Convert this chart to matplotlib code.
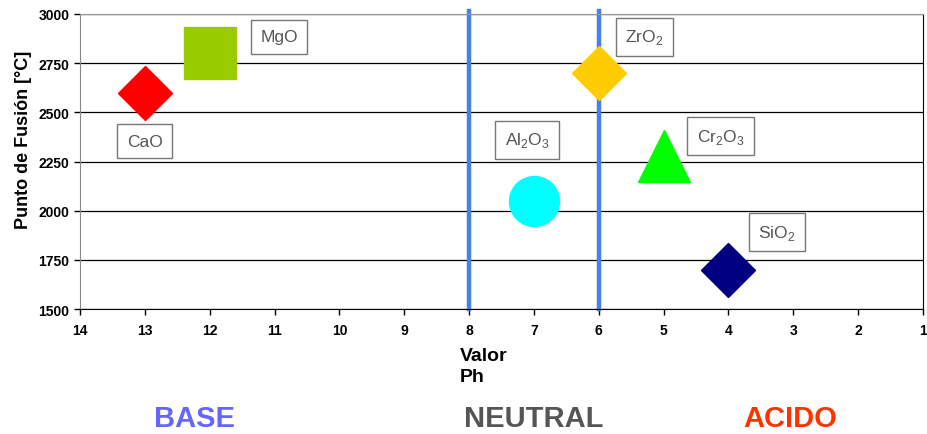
import matplotlib.pyplot as plt
from matplotlib import font_manager

# data
compounds = ['CaO', 'MgO', 'ZrO$_2$', 'Al$_2$O$_3$', 'Cr$_2$O$_3$', 'SiO$_2$']
ph_values = [13, 12, 6, 7, 5, 4]
melting_points = [2600, 2800, 2700, 2050, 2280, 1700]
markers = ['D', 's', 'D', 'o', '^', 'D']
colors = ['#ff0000', '#99cc00', '#ffcc00', '#00ffff', '#00ff00', '#000080']
label_offsets = [(0, -35), (50, 12), (33, 26), (-5, 44), (41, 14), (35, 27)]
neutral_bounds = [8, 6]
x_ticks = list(range(14, 0, -1))
y_ticks = [1500, 1750, 2000, 2250, 2500, 2750, 3000]
zones = ['BASE', 'NEUTRAL', 'ACIDO']
zone_x = [195, 534, 790]
zone_colors = ['#6666ff', '#555555', '#ff3300']

names = {f.name for f in font_manager.fontManager.ttflist}
narrow = 'Liberation Sans Narrow' if 'Liberation Sans Narrow' in names else 'Liberation Sans'
plt.rcParams['font.family'] = [narrow, 'DejaVu Sans']
plt.rcParams['mathtext.fontset'] = 'custom'
plt.rcParams['mathtext.rm'] = 'Liberation Sans'

fig = plt.figure(figsize=(9.27, 4.35), dpi=100)
ax = fig.add_axes([80 / 927, 1 - 310 / 435, 843 / 927, 295 / 435])

for y in y_ticks:
    ax.axhline(y, color='black', lw=0.9, zorder=1)
for x in neutral_bounds:
    ax.axvline(x, color='#4a80e6', lw=3.2, zorder=2, ymax=1.01, clip_on=False)

sizes = {'D': 27, 's': 38, 'o': 36, '^': 37}
for name, x, y, m, c, off in zip(compounds, ph_values, melting_points, markers, colors, label_offsets):
    ax.plot(x, y, marker=m, color=c, markersize=sizes[m], linestyle='none', zorder=3)
    ax.annotate(name, (x, y), xytext=off, textcoords='offset points',
                ha='center', va='center', fontsize=12.5, color='#555555',
                family='Liberation Sans',
                bbox=dict(boxstyle='square,pad=0.55', fc='white', ec='#777777', lw=1))

ax.set_xlim(14, 1)
ax.set_ylim(1500, 3000)
ax.set_xticks(x_ticks)
ax.set_yticks(y_ticks)
ax.tick_params(axis='both', labelsize=10, length=4, width=1)
ax.tick_params(axis='x', pad=6)
for lab in ax.get_xticklabels() + ax.get_yticklabels():
    lab.set_fontweight('bold')

ax.spines['left'].set_color('#888888')
ax.spines['top'].set_color('#999999')
ax.spines['right'].set_color('black')
ax.spines['bottom'].set_color('black')

ax.set_ylabel('Punto de Fusión [°C]', fontsize=13, fontweight='bold')
ax.yaxis.set_label_coords(-0.057, 0.576)
fig.text(460 / 927, 1 - 348 / 435, 'Valor\nPh', fontsize=14, fontweight='bold',
         ha='left', va='top', linespacing=1.3)

for z, zx, zc in zip(zones, zone_x, zone_colors):
    fig.text(zx / 927, 1 - 419 / 435, z, color=zc, fontsize=21, fontweight='bold',
             ha='center', va='center')

fig.savefig('out.png', dpi=100)
